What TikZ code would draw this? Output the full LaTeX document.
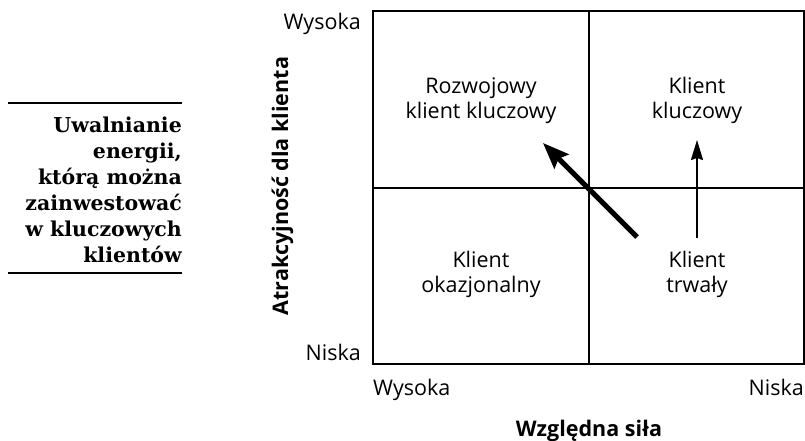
\documentclass[tikz,border=0pt]{standalone}
\usepackage{fontspec}
\setmainfont{Open Sans}
\newfontfamily\notefont{DejaVu Serif}
\usetikzlibrary{arrows.meta}

\tikzset{
    quad/.style={align=center, inner sep=0pt, font=\fontsize{21.5}{25}\selectfont},
    axis/.style={inner sep=0pt, font=\fontsize{21.5}{25}\selectfont},
    title/.style={inner sep=0pt, font=\bfseries\fontsize{21.5}{25}\selectfont},
    bigarrow/.style={line width=5pt, -{Stealth[length=26pt,width=20pt,inset=4pt]}},
    smallarrow/.style={line width=2pt, -{Stealth[length=20pt,width=12pt,inset=2pt]}}
}

\begin{document}
\begin{tikzpicture}[x=1pt,y=-1pt]
            \useasboundingbox (0,0) rectangle (805,441);

            % side note
            \draw [line width=2pt] (8,103) -- (182,103);
            \draw [line width=1.2pt] (8,273) -- (182,273);
            \node (note) [anchor=east, align=right, inner sep=0pt,
                font=\notefont\bfseries\fontsize{20.5}{26}\selectfont] at (182,190)
                {Uwalnianie\\energii,\\którą można\\zainwestować\\w kluczowych\\klientów};

            % matrix
            \draw [line width=2pt] (373,11) rectangle (804,364);
            \draw [line width=2pt] (588.5,11) -- (588.5,364);
            \draw [line width=2pt] (373,188) -- (804,188);

            \begin{scope}[every node/.style={quad}]
                \node (RK) at (481,100.5) {Rozwojowy\\klient kluczowy};
                \node (KK) at (697,100.5) {Klient\\kluczowy};
                \node (KO) at (481,274.5) {Klient\\okazjonalny};
                \node (KT) at (697,274.5) {Klient\\trwały};
            \end{scope}

            \begin{scope}[every node/.style={axis}]
                \node (yhi) [anchor=base east] at (361,30) {Wysoka};
                \node (ylo) [anchor=base east] at (361,360) {Niska};
                \node (xhi) [anchor=base west] at (373,395) {Wysoka};
                \node (xlo) [anchor=base east] at (804,395) {Niska};
            \end{scope}

            \node (xtitle) [title, anchor=base] at (589,436) {Względna siła};
            \node (ytitle) [title, anchor=base, rotate=90] at (288,186) {Atrakcyjność dla klienta};

            \begin{scope}
                \coordinate (A1) at (637,237);
                \coordinate (A2) at (543,143);
                \coordinate (B1) at (697,238);
                \coordinate (B2) at (697,140);

                \path [bigarrow] (A1) edge (A2);
                \path [smallarrow] (B1) edge (B2);
            \end{scope}
\end{tikzpicture}
\end{document}
